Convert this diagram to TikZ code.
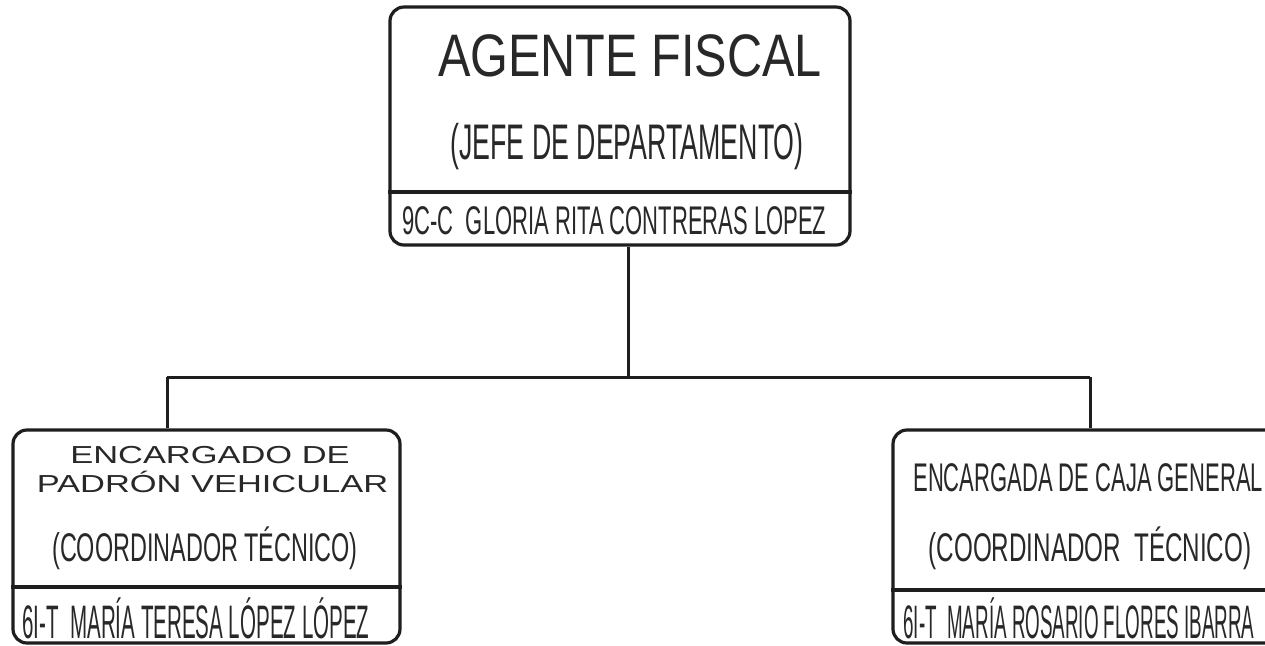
\documentclass[tikz,border=0pt]{standalone}
\usepackage{fontspec}
\usepackage{graphicx}
\setmainfont{Liberation Sans}
\usetikzlibrary{positioning, calc}
\definecolor{ink}{RGB}{40,40,40}
\definecolor{lineInk}{RGB}{30,30,30}
% horizontally squeezed text
\newcommand{\sqz}[2]{\scalebox{#1}[1]{#2}}
\newcommand{\fs}[1]{\fontsize{#1}{#1}\selectfont}

\begin{document}
\begin{tikzpicture}[
  x=0.5pt, y=-0.5pt,
  box/.style={draw=lineInk, line width=1.6pt, rounded corners=7pt, inner sep=0pt},
  divider/.style={draw=lineInk, line width=1.6pt},
  conn/.style={draw=lineInk, line width=1.5pt},
  txt/.style={inner sep=0pt, text=ink}
]
\useasboundingbox (0,0) rectangle (1265,645);
\clip (0,0) rectangle (1265,645);
\fill[white] (0,0) rectangle (1265,645);

% boxes
\node[box, minimum width=230pt, minimum height=119pt] (agente) at (620,126) {};
\node[box, minimum width=193.5pt, minimum height=106.5pt] (padron) at (206.5,536.5) {};
\node[box, minimum width=193.5pt, minimum height=106.5pt] (caja) at (1086.5,536.5) {};

% dividers
\draw[divider] (agente.west |- 0,192) -- (agente.east |- 0,192);
\draw[divider] (padron.west |- 0,587) -- (padron.east |- 0,587);
\draw[divider] (caja.west |- 0,590) -- (caja.east |- 0,590);

% top box texts
\node[txt, anchor=base] (t1) at (630,76) {\fs{30}\sqz{0.81}{AGENTE FISCAL}};
\node[txt, anchor=base] (t2) at (627,159) {\fs{25}\sqz{0.535}{(JEFE DE DEPARTAMENTO)}};
\node[txt, anchor=base west] (t3) at (402,234) {\fs{20}\sqz{0.55}{9C-C\ \ GLORIA RITA CONTRERAS LOPEZ}};

% left box texts
\node[txt, anchor=base] (l1) at (210,463) {\fs{12.3}\sqz{1.4}{ENCARGADO DE}};
\node[txt, anchor=base] (l2) at (212.5,492) {\fs{12.3}\sqz{1.4}{PADRÓN VEHICULAR}};
\node[txt, anchor=base] (l3) at (205,561) {\fs{20}\sqz{0.585}{(COORDINADOR TÉCNICO)}};
\node[txt, anchor=base west] (l4) at (22,638) {\fs{23.5}\sqz{0.437}{6I-T\ \ MARÍA TERESA LÓPEZ LÓPEZ}};

% right box texts
\node[txt, anchor=base west] (r1) at (913,491) {\fs{20}\sqz{0.55}{ENCARGADA DE CAJA GENERAL}};
\node[txt, anchor=base] (r2) at (1090,561) {\fs{20}\sqz{0.605}{(COORDINADOR\ \ TÉCNICO)}};
\node[txt, anchor=base west] (r3) at (903,638) {\fs{23.5}\sqz{0.4}{6I-T\ \ MARÍA ROSARIO FLORES IBARRA}};

% connectors
\coordinate (bus) at (628,377);
\coordinate (jl) at (167,377);
\coordinate (jr) at (1090,377);
\draw[conn] (agente.south -| bus) -- (bus);
\draw[conn] (jl) -- (jr);
\draw[conn] (jl) -- (jl |- padron.north);
\draw[conn] (jr) -- (jr |- caja.north);
\end{tikzpicture}
\end{document}
